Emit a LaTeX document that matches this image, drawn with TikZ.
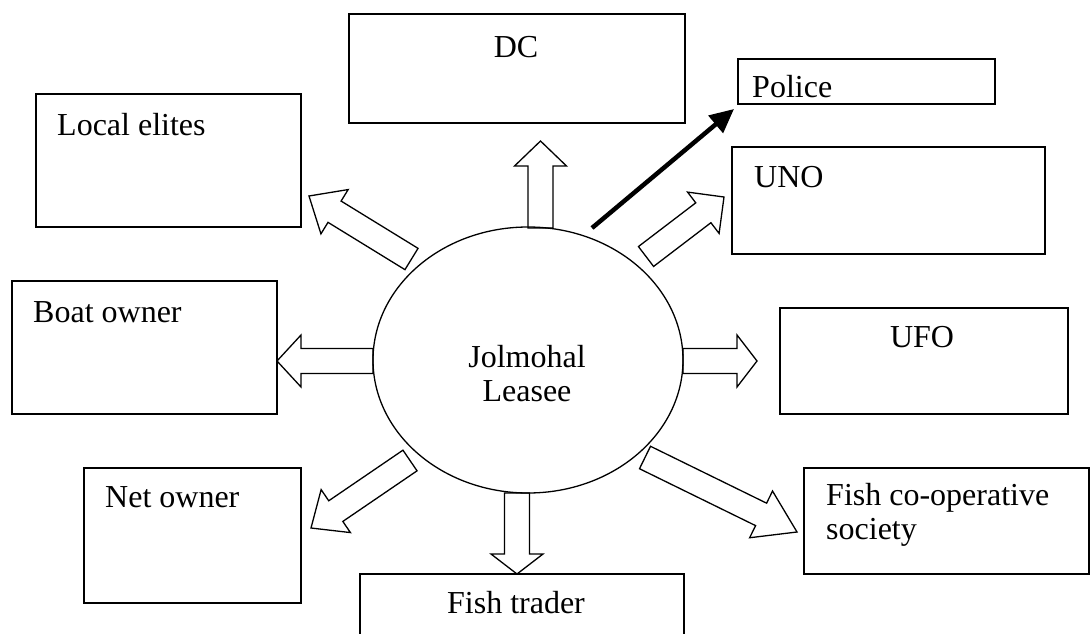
\documentclass[tikz,border=0pt]{standalone}
\usepackage{fontspec}
\setmainfont{Liberation Serif}
\usetikzlibrary{arrows.meta,shapes,calc}
\tikzset{
	basic/.style = {draw, line width=1.3pt, rectangle, inner sep=0pt},
	txt/.style = {inner sep=0pt, font=\fontsize{32}{34}\selectfont},
	hub/.style = {draw, line width=1.3pt, ellipse, inner sep=0pt},
	hollow/.style = {draw, line width=1.3pt, line join=miter}
}
% outlined block arrow: [head length]{from}{tip}
\newcommand{\hollowarrow}[3][24pt]{%
	\coordinate (hb) at ($(#3)!#1!(#2)$);
	\draw[hollow] ($(#2)!12.5pt!90:(#3)$) -- ($(hb)!12.5pt!-90:(#2)$) -- ($(hb)!26pt!-90:(#2)$)
		-- (#3) -- ($(hb)!26pt!90:(#2)$) -- ($(hb)!12.5pt!90:(#2)$) -- ($(#2)!12.5pt!-90:(#3)$) -- cycle;
}

\begin{document}
\begin{tikzpicture}[x=1pt, y=-1pt]
	\useasboundingbox (0,0) rectangle (1092,634);
	\clip (0,0) rectangle (1092,634);

	% the leasee in the middle
	\node[hub, minimum width=310pt, minimum height=266pt] (lease) at (528,360) {};
	\node[txt, align=center] (leasetxt) at (527,374) {Jolmohal\\Leasee};

	% boxes round it
	\node[basic, minimum width=336pt, minimum height=109pt] (dc) at (517,68.5) {};
	\node[basic, minimum width=257pt, minimum height=45pt] (police) at (866.5,81.5) {};
	\node[basic, minimum width=265pt, minimum height=133pt] (elites) at (168.5,160.5) {};
	\node[basic, minimum width=313pt, minimum height=107pt] (uno) at (888.5,200.5) {};
	\node[basic, minimum width=265pt, minimum height=133pt] (boat) at (144.5,347.5) {};
	\node[basic, minimum width=288pt, minimum height=106pt] (ufo) at (924,361) {};
	\node[basic, minimum width=217pt, minimum height=135pt] (net) at (192.5,535.5) {};
	\node[basic, minimum width=285pt, minimum height=106pt] (coop) at (946.5,521) {};
	\node[basic, minimum width=324pt, minimum height=86pt] (trader) at (522,617) {};

	% texts in the boxes
	\node[txt, anchor=base] (dctxt) at (516,58) {DC};
	\node[txt, anchor=base west] (policetxt) at (752,97) {Police};
	\node[txt, anchor=base west] (elitestxt) at (57,135) {Local elites};
	\node[txt, anchor=base west] (unotxt) at (754,187) {UNO};
	\node[txt, anchor=base west] (boattxt) at (33,322) {Boat owner};
	\node[txt, anchor=base] (ufotxt) at (922,347) {UFO};
	\node[txt, anchor=base west] (nettxt) at (105,507) {Net owner};
	\node[txt, anchor=north west, align=left] (cooptxt) at (826,483) {Fish co-operative\\society};
	\node[txt, anchor=base] (tradertxt) at (516,613) {Fish trader};

	% arrow ends
	\coordinate (a1) at (540.5,228);   \coordinate (t1) at (540.5,141);
	\coordinate (a2) at (646,256.5);   \coordinate (t2) at (724,197);
	\coordinate (a3) at (683,361);     \coordinate (t3) at (757,361);
	\coordinate (a4) at (645,457.5);   \coordinate (t4) at (797,532);
	\coordinate (a5) at (517,493);     \coordinate (t5) at (517,574);
	\coordinate (a6) at (410,460.5);   \coordinate (t6) at (311,528);
	\coordinate (a7) at (373,361);     \coordinate (t7) at (277,361);
	\coordinate (a8) at (411.5,259);   \coordinate (t8) at (309,196);
	\coordinate (p0) at (592,228);     \coordinate (p1) at (734,109);

	\hollowarrow[25pt]{a1}{t1}
	\hollowarrow[26pt]{a2}{t2}
	\hollowarrow[20pt]{a3}{t3}
	\hollowarrow[40pt]{a4}{t4}
	\hollowarrow[20pt]{a5}{t5}
	\hollowarrow[30pt]{a6}{t6}
	\hollowarrow[24pt]{a7}{t7}
	\hollowarrow[30pt]{a8}{t8}

	% the one solid arrow
	\draw[line width=4.5pt, -{Triangle[length=24pt, width=22pt]}] (p0) -- (p1);
\end{tikzpicture}
\end{document}
